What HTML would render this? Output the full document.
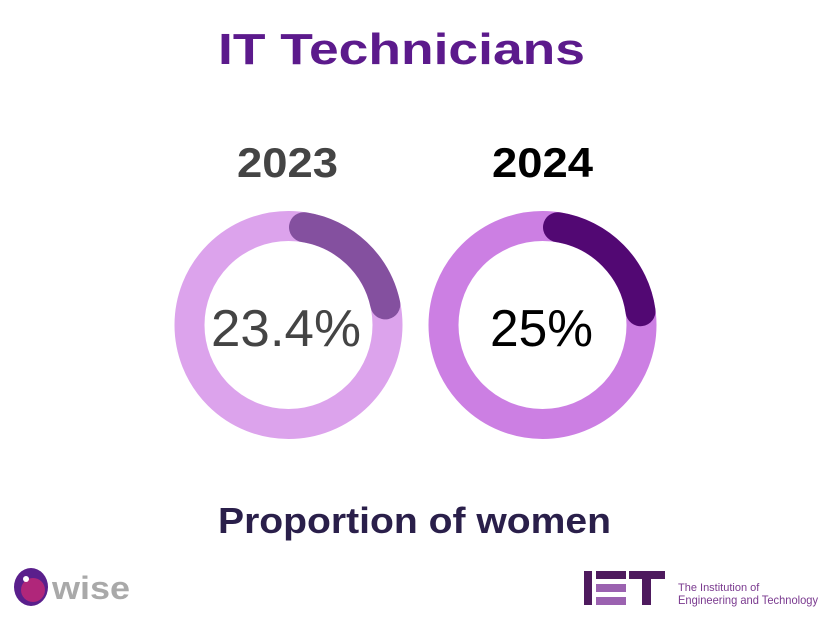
<!DOCTYPE html>
<html><head><style>
body{margin:0;width:831px;height:623px;background:#fff;overflow:hidden;font-family:"Liberation Sans",sans-serif}
</style></head><body>
<svg width="831" height="623" viewBox="0 0 831 623" xmlns="http://www.w3.org/2000/svg">
<text x="218" y="64" textLength="367" lengthAdjust="spacingAndGlyphs" font-family="Liberation Sans" font-weight="bold" font-size="44" fill="#5c1a8c">IT Technicians</text>
<text x="237" y="177" textLength="101" lengthAdjust="spacingAndGlyphs" font-family="Liberation Sans" font-weight="bold" font-size="42" fill="#444">2023</text>
<text x="492" y="177" textLength="101" lengthAdjust="spacingAndGlyphs" font-family="Liberation Sans" font-weight="bold" font-size="42" fill="#000">2024</text>
<circle cx="288.5" cy="325" r="99" fill="none" stroke="#dca3ec" stroke-width="30"/>
<path d="M 304 227.2 A 99 99 0 0 1 385.3 304.4" fill="none" stroke="#84509f" stroke-width="30" stroke-linecap="round"/>
<circle cx="542.5" cy="325" r="99" fill="none" stroke="#cc7fe3" stroke-width="30"/>
<path d="M 558 227.2 A 99 99 0 0 1 640.5 311.2" fill="none" stroke="#520873" stroke-width="30" stroke-linecap="round"/>
<text x="211" y="346" textLength="150" lengthAdjust="spacingAndGlyphs" font-family="Liberation Sans" font-size="52" fill="#444">23.4%</text>
<text x="490" y="346" textLength="103" lengthAdjust="spacingAndGlyphs" font-family="Liberation Sans" font-size="52" fill="#000">25%</text>
<text x="218" y="533" textLength="393" lengthAdjust="spacingAndGlyphs" font-family="Liberation Sans" font-weight="bold" font-size="36" fill="#2a1f4a">Proportion of women</text>
<!-- wise logo -->
<ellipse cx="31" cy="587" rx="17" ry="19" fill="#5a1f8c"/>
<circle cx="33" cy="590" r="12" fill="#b0267a"/>
<circle cx="26" cy="579" r="3" fill="#fff"/>
<text x="52" y="599" textLength="78" lengthAdjust="spacingAndGlyphs" font-family="Liberation Sans" font-weight="bold" font-size="32" fill="#a9a9a9">wise</text>
<!-- IET logo -->
<rect x="584" y="571" width="8" height="34" fill="#4e1a5e"/>
<rect x="596" y="571" width="30" height="8" fill="#4e1a5e"/>
<rect x="596" y="584" width="30" height="8" fill="#9b62b0"/>
<rect x="596" y="597" width="30" height="8" fill="#9b62b0"/>
<rect x="629" y="571" width="36" height="8" fill="#4e1a5e"/>
<rect x="642" y="571" width="9" height="34" fill="#4e1a5e"/>
<text x="678" y="591" font-family="Liberation Sans" font-size="11" fill="#7a3a8f">The Institution of</text>
<text x="678" y="604" textLength="140" lengthAdjust="spacingAndGlyphs" font-family="Liberation Sans" font-size="12" fill="#7a3a8f">Engineering and Technology</text>
</svg>
</body></html>
